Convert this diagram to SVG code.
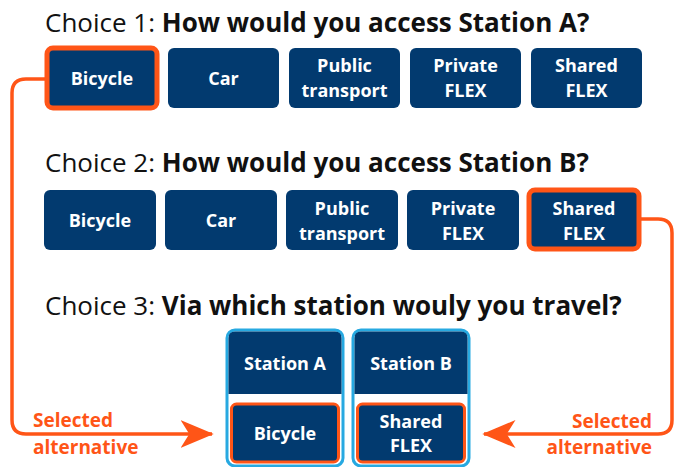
<svg xmlns="http://www.w3.org/2000/svg" width="674" height="467" viewBox="0 0 674 467">
<defs>
<style>
.h{font-family:"Open Sans","Liberation Sans",sans-serif;font-size:26px;fill:#111}
.hb{font-weight:bold}
.box{fill:#023a6f}
.sel{stroke:#ff5517;stroke-width:5}
.t{font-family:"Open Sans","Liberation Sans",sans-serif;font-size:18px;font-weight:bold;fill:#fff;text-anchor:middle}
.lab{font-family:"Open Sans","Liberation Sans",sans-serif;font-size:19px;font-weight:bold;fill:#ff5517}
.frame{fill:#fff;stroke:#27a9e1;stroke-width:3}
.inner{fill:#023a6f;stroke:#ff5517;stroke-width:3}
.conn{fill:none;stroke:#ff5517;stroke-width:3.5}
</style>
<marker id="ah" markerWidth="10" markerHeight="8" refX="9" refY="4" orient="auto" markerUnits="strokeWidth"><path d="M0,0 L9.5,4 L0,8 L2.5,4 Z" fill="#ff5517"/></marker>
</defs>
<rect width="674" height="467" fill="#fff"/>

<text class="h" x="45" y="32">Choice 1: <tspan class="hb">How would you access Station A?</tspan></text>
<text class="h" x="45" y="172">Choice 2: <tspan class="hb">How would you access Station B?</tspan></text>
<text class="h" x="45" y="315">Choice 3: <tspan class="hb">Via which station wouly you travel?</tspan></text>

<g id="connectors">
<path class="conn" d="M46,79 H26 Q12,79 12,93 V420 Q12,434 26,434 H212" marker-end="url(#ah)"/>
<path class="conn" d="M641,219 H658 Q672,219 672,233 V420 Q672,434 658,434 H484" marker-end="url(#ah)"/>
</g>

<g id="c1-bicycle"><rect class="box sel" x="47" y="48" width="110" height="60" rx="6"/><text class="t" x="102" y="85">Bicycle</text></g>
<g id="c1-car"><rect class="box" x="168" y="48" width="111" height="60" rx="6"/><text class="t" x="223.5" y="85">Car</text></g>
<g id="c1-pt"><rect class="box" x="289" y="48" width="111" height="60" rx="6"/><text class="t" x="344.5" y="72">Public</text><text class="t" x="344.5" y="97">transport</text></g>
<g id="c1-private"><rect class="box" x="410" y="48" width="111" height="60" rx="6"/><text class="t" x="465.5" y="72">Private</text><text class="t" x="465.5" y="97">FLEX</text></g>
<g id="c1-shared"><rect class="box" x="531" y="48" width="111" height="60" rx="6"/><text class="t" x="586.5" y="72">Shared</text><text class="t" x="586.5" y="97">FLEX</text></g>

<g id="c2-bicycle"><rect class="box" x="44" y="190" width="112" height="60" rx="6"/><text class="t" x="100" y="227">Bicycle</text></g>
<g id="c2-car"><rect class="box" x="165" y="190" width="112" height="60" rx="6"/><text class="t" x="221" y="227">Car</text></g>
<g id="c2-pt"><rect class="box" x="286" y="190" width="112" height="60" rx="6"/><text class="t" x="342" y="215">Public</text><text class="t" x="342" y="240">transport</text></g>
<g id="c2-private"><rect class="box" x="407" y="190" width="112" height="60" rx="6"/><text class="t" x="463" y="215">Private</text><text class="t" x="463" y="240">FLEX</text></g>
<g id="c2-shared"><rect class="box sel" x="529" y="190" width="110" height="59" rx="6"/><text class="t" x="584" y="215">Shared</text><text class="t" x="584" y="240">FLEX</text></g>

<g id="station-a">
<rect class="frame" x="227" y="330" width="116" height="136" rx="8"/>
<path class="box" d="M228.5,394 V338 Q228.5,331.5 235,331.5 H335 Q341.5,331.5 341.5,338 V394 Z"/>
<text class="t" x="285" y="370">Station A</text>
<rect class="inner" x="231.5" y="404" width="107" height="58" rx="5"/>
<text class="t" x="285" y="440">Bicycle</text>
</g>
<g id="station-b">
<rect class="frame" x="353" y="330" width="116" height="136" rx="8"/>
<path class="box" d="M354.5,394 V338 Q354.5,331.5 361,331.5 H461 Q467.5,331.5 467.5,338 V394 Z"/>
<text class="t" x="411" y="370">Station B</text>
<rect class="inner" x="357.5" y="404" width="107" height="58" rx="5"/>
<text class="t" x="411" y="428">Shared</text>
<text class="t" x="411" y="452">FLEX</text>
</g>

<g id="label-left"><text class="lab" x="33" y="427">Selected</text><text class="lab" x="33" y="454">alternative</text></g>
<g id="label-right"><text class="lab" x="652" y="428" text-anchor="end">Selected</text><text class="lab" x="652" y="454" text-anchor="end">alternative</text></g>
</svg>
